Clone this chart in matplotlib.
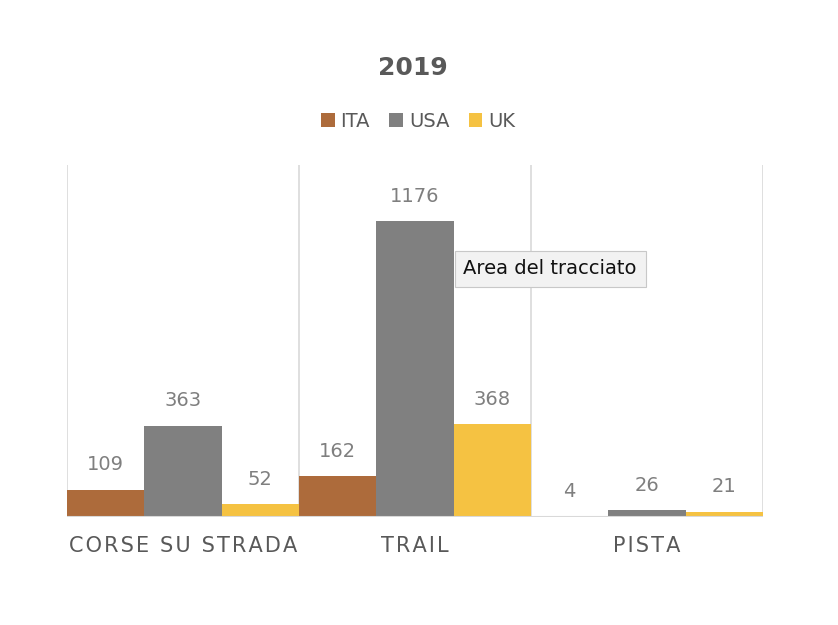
import numpy as np
import matplotlib.pyplot as plt

# data
categories = ['CORSE SU STRADA', 'TRAIL', 'PISTA']
series_names = ['ITA', 'USA', 'UK']
ita = [109, 162, 4]
usa = [363, 1176, 26]
uk = [52, 368, 21]
colors = ['#AD6B3B', '#808080', '#F5C242']

fig = plt.figure(figsize=(8.38, 6.25), dpi=100)
ax = fig.add_axes([67 / 838, 108 / 625, 696 / 838, 352 / 625])

x = np.arange(len(categories))
w = 1 / 3
for i, (vals, col, name) in enumerate(zip([ita, usa, uk], colors, series_names)):
    pos = x - 0.5 + w * (i + 0.5)
    ax.bar(pos, vals, width=w, color=col, label=name, zorder=2)
    for p, v in zip(pos, vals):
        ax.annotate(str(v), (p, v), xytext=(0, 11), textcoords='offset points',
                    ha='center', va='bottom', fontsize=14, color='#7F7F7F')

ax.set_xlim(-0.5, len(categories) - 0.5)
ax.set_ylim(0, 1400)

# category separators
for b in np.arange(-0.5, len(categories), 1):
    ax.axvline(b, color='#D9D9D9', lw=1.2, zorder=1)
ax.axhline(0, color='#D9D9D9', lw=1.5, zorder=3)

for s in ax.spines.values():
    s.set_visible(False)
ax.set_yticks([])
ax.set_xticks(x)
# letter-spaced labels, like the original
spaced = ['\u200a'.join(c) for c in categories]
ax.set_xticklabels(spaced, fontsize=15, color='#595959')
ax.tick_params(axis='x', length=0, pad=14)

fig.text(0.493, 1 - 68 / 625, '2019', ha='center', va='center',
         fontsize=18, fontweight='bold', color='#595959')

fig.legend(loc='center', bbox_to_anchor=(0.499, 1 - 121 / 625), ncol=3,
           frameon=False, fontsize=14, handlelength=0.7, handleheight=0.7,
           handletextpad=0.3, columnspacing=1.0, labelcolor='#595959')

# tooltip shown in the screenshot
fig.text(550 / 838, 1 - 269 / 625, 'Area del tracciato', ha='center', va='center',
         fontsize=14, color='#111111',
         bbox=dict(boxstyle='square,pad=0.45', fc='#F2F2F2', ec='#C8C8C8', lw=0.8))

fig.savefig('out.png', dpi=100)
